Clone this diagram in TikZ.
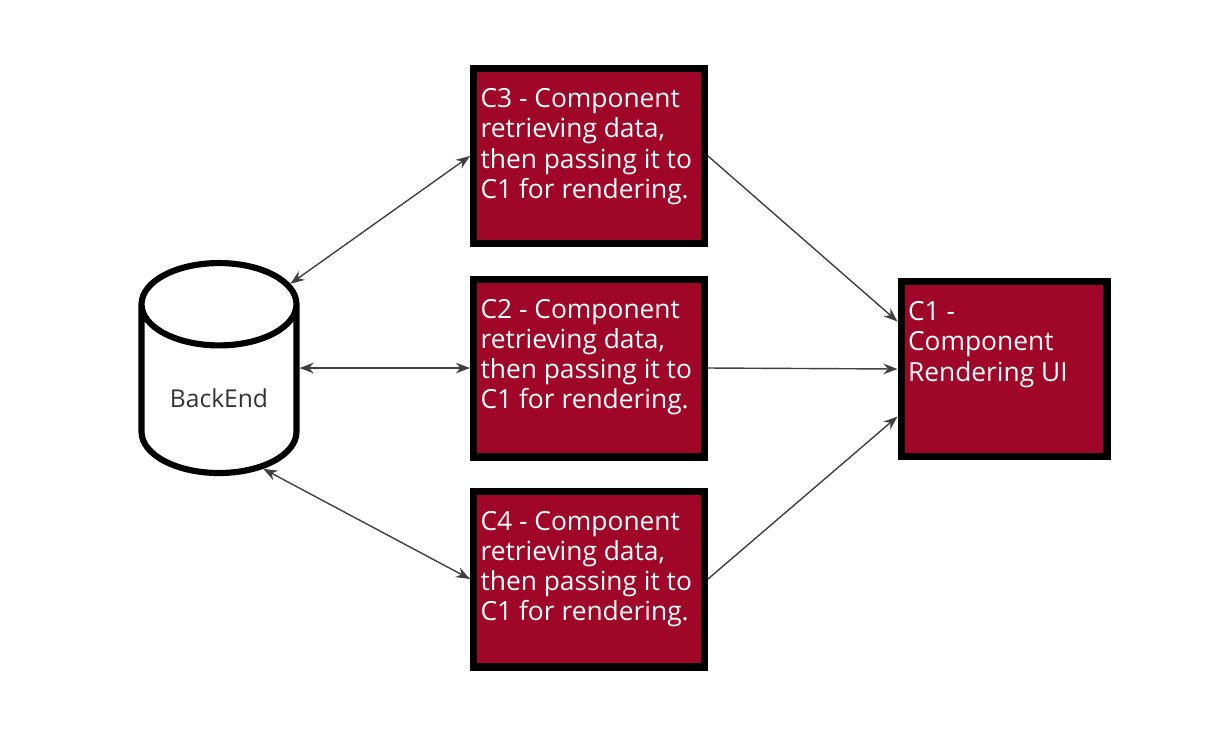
\documentclass[tikz,border=0pt]{standalone}
\usepackage{fontspec}
\setmainfont{Open Sans}
\usetikzlibrary{shapes.geometric,arrows.meta}
\begin{document}
\begin{tikzpicture}[x=0.02cm,y=-0.02cm,>={Stealth[length=8pt,width=6pt]}]
  \tikzstyle{comp}=[rectangle,draw=black,line width=4pt,fill={rgb,255:red,160;green,6;blue,39},text=white,inner sep=0pt,anchor=center]
  \tikzstyle{store}=[cylinder,shape border rotate=90,draw=black,line width=3.5pt,fill=white,minimum width=3.1cm,minimum height=4.2cm,aspect=0.75,text={rgb,255:red,51;green,51;blue,51}]
  \tikzstyle{link}=[thick,draw={rgb,255:red,64;green,64;blue,64}]
  \newcommand{\boxtext}[3]{\parbox[c][#2][t]{#1}{\vspace{0.4cm}\raggedright\leftskip=0.14cm\fontsize{15}{17.2}\selectfont #3}}
  \useasboundingbox (0,0) rectangle (1216,728);

  \node [store] (db) at (219,398) {\fontsize{14}{16}\selectfont BackEnd};
  \node [comp] (c3) at (589,156) {\boxtext{4.62cm}{3.5cm}{C3 - Component retrieving data, then passing it to C1 for rendering.}};
  \node [comp] (c2) at (589,368) {\boxtext{4.62cm}{3.56cm}{C2 - Component retrieving data, then passing it to C1 for rendering.}};
  \node [comp] (c4) at (589,579) {\boxtext{4.62cm}{3.52cm}{C4 - Component retrieving data, then passing it to C1 for rendering.}};
  \node [comp] (c1) at (1004,369) {\boxtext{4.12cm}{3.5cm}{C1 -\\ Component Rendering UI}};

  \draw [link,<->] (db.58) -- (c3.west);
  \draw [link,<->] (db.east |- c2.west) -- (c2.west);
  \draw [link,<->] (db.-58) -- (c4.west);
  \draw [link,->] (c3.east) -- ([yshift=0.95cm]c1.west);
  \draw [link,->] (c2.east) -- (c1.west);
  \draw [link,->] (c4.east) -- ([yshift=-0.95cm]c1.west);
\end{tikzpicture}
\end{document}
